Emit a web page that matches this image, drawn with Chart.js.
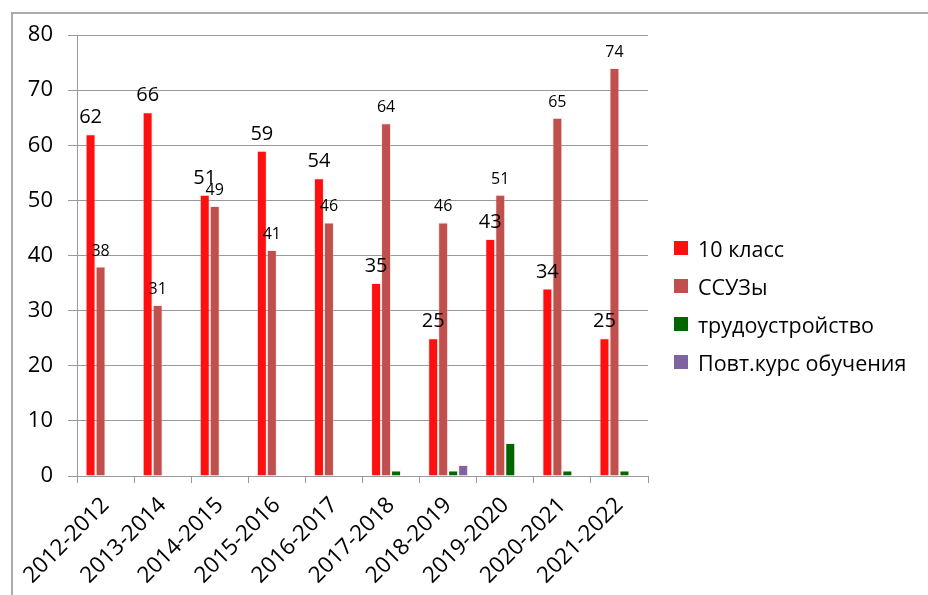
<!DOCTYPE html>
<html>
<head>
<meta charset="utf-8">
<script src="https://cdn.jsdelivr.net/npm/chart.js@4.4.1/dist/chart.umd.min.js"></script>
<style>
  html, body { margin: 0; padding: 0; background: #fff; overflow: hidden; }
  #wrap { position: relative; width: 928px; height: 595px; }
  #frame { position: absolute; left: 11px; top: 12px; width: 1000px; height: 700px; border: 2px solid #ababab; }
  #chart { position: absolute; left: 0; top: 0; }
  #legend { position: absolute; left: 674px; top: 229px; font-family: "Open Sans", sans-serif; font-size: 21.5px; color: #000; }
  #legend .row { display: flex; align-items: center; height: 38px; }
  #legend .box { width: 14px; height: 14px; margin-right: 10px; }
</style>
</head>
<body>
<div id="wrap">
  <div id="frame"></div>
  <canvas id="chart" width="928" height="595"></canvas>
  <div id="legend"></div>
</div>
<script>
const years = ['2012-2012', '2013-2014', '2014-2015', '2015-2016', '2016-2017',
               '2017-2018', '2018-2019', '2019-2020', '2020-2021', '2021-2022'];
const grade10 = [62, 66, 51, 59, 54, 35, 25, 43, 34, 25];
const colleges = [38, 31, 49, 41, 46, 64, 46, 51, 65, 74];
const employment = [0, 0, 0, 0, 0, 1, 1, 6, 1, 1];
const repeatCourse = [0, 0, 0, 0, 0, 0, 2, 0, 0, 0];

const seriesNames = ['10 класс', 'ССУЗы', 'трудоустройство', 'Повт.курс обучения'];
const seriesColors = ['#ff1010', '#c0504d', '#006600', '#8064a2'];
const seriesValues = [grade10, colleges, employment, repeatCourse];

const FONT = '"Open Sans", sans-serif';

// value labels above the first two series
const valueLabels = {
    id: 'valueLabels',
    afterDatasetsDraw(chart) {
        const ctx = chart.ctx;
        const sizes = [20, 16];
        ctx.save();
        ctx.fillStyle = '#000';
        ctx.textAlign = 'center';
        ctx.textBaseline = 'alphabetic';
        [0, 1].forEach(di => {
            ctx.font = sizes[di] + 'px ' + FONT;
            chart.getDatasetMeta(di).data.forEach((bar, i) => {
                ctx.fillText(String(seriesValues[di][i]), bar.x, bar.y - 11);
            });
        });
        ctx.restore();
    }
};

const data = {
    labels: years,
    datasets: seriesNames.map((name, i) => ({
        label: name,
        data: seriesValues[i],
        backgroundColor: seriesColors[i],
        borderColor: 'rgba(255,200,200,0.4)',
        borderWidth: 1,
        barPercentage: 1,
        categoryPercentage: 0.7
    }))
};

const config = {
    type: 'bar',
    data: data,
    options: {
        responsive: false,
        animation: false,
        layout: { padding: { left: 0, right: 280, top: 35, bottom: 0 } },
        plugins: {
            legend: { display: false },
            tooltip: { enabled: false }
        },
        scales: {
            x: {
                grid: { display: true, drawOnChartArea: false, drawTicks: true, tickLength: 7, color: '#999', offset: true },
                border: { color: '#999' },
                ticks: {
                    color: '#000',
                    font: { family: FONT, size: 22.5 },
                    maxRotation: 45,
                    minRotation: 45,
                    padding: 9
                },
                afterFit(scale) { scale.height = 119; }
            },
            y: {
                min: 0,
                max: 80,
                ticks: { stepSize: 10, color: '#000', font: { family: FONT, size: 22 }, padding: 15 },
                grid: { color: '#999', tickLength: 9 },
                border: { color: '#999' },
                afterFit(scale) { scale.width = 77; }
            }
        }
    },
    plugins: [valueLabels]
};

new Chart(document.getElementById('chart').getContext('2d'), config);

// legend
const legend = document.getElementById('legend');
seriesNames.forEach((name, i) => {
    const row = document.createElement('div');
    row.className = 'row';
    const box = document.createElement('span');
    box.className = 'box';
    box.style.background = seriesColors[i];
    const txt = document.createElement('span');
    txt.textContent = name;
    row.appendChild(box);
    row.appendChild(txt);
    legend.appendChild(row);
});
</script>
</body>
</html>
